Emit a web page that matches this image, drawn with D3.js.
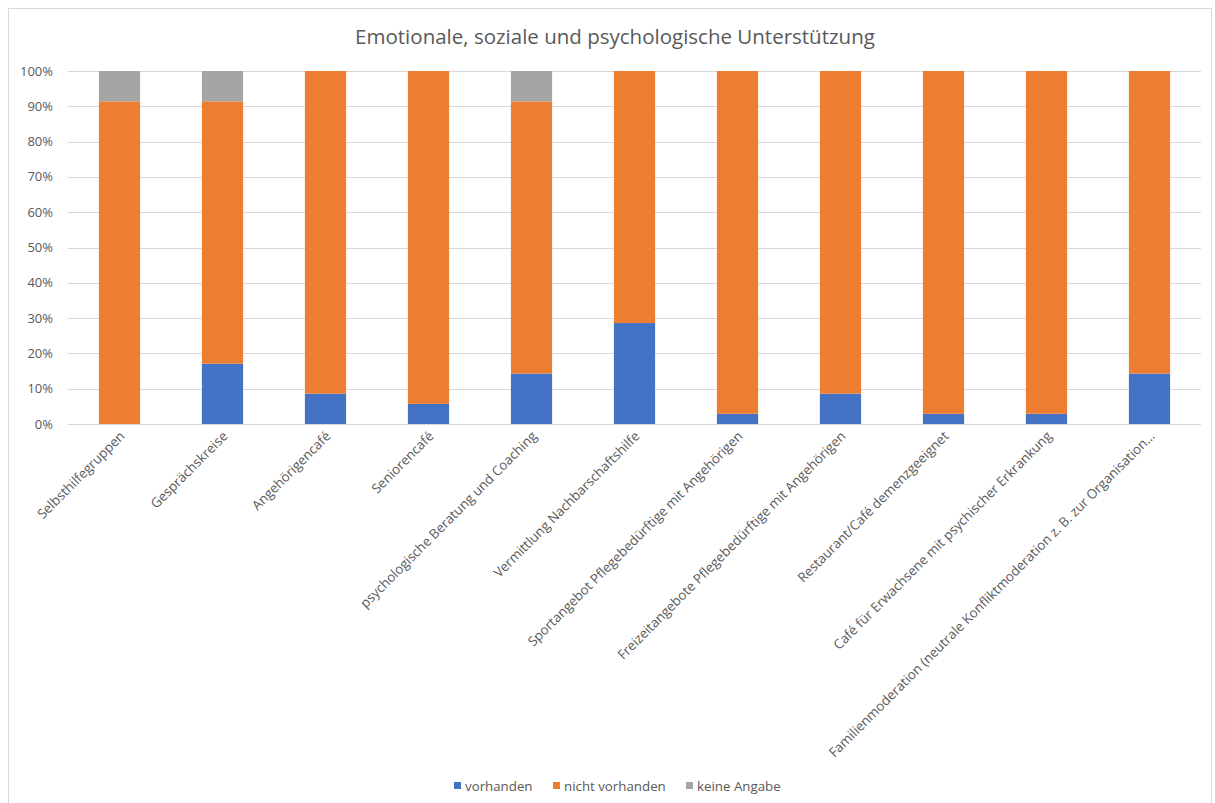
<!DOCTYPE html>
<html>
<head>
<meta charset="utf-8">
<script src="https://cdn.jsdelivr.net/npm/d3@7"></script>
<style>
  html, body { margin: 0; padding: 0; background: #fff; }
  svg { display: block; }
  text { font-family: "Open Sans", "Noto Sans", sans-serif; fill: #595959; }
</style>
</head>
<body>
<svg id="chart" width="1215" height="803"></svg>
<script>
// Angebote im Bereich emotionaler, sozialer und psychologischer Unterstützung
const categories = [
  "Selbsthilfegruppen",
  "Gesprächskreise",
  "Angehörigencafé",
  "Seniorencafé",
  "psychologische Beratung und Coaching",
  "Vermittlung Nachbarschaftshilfe",
  "Sportangebot Pflegebedürftige mit Angehörigen",
  "Freizeitangebote Pflegebedürftige mit Angehörigen",
  "Restaurant/Café demenzgeeignet",
  "Café für Erwachsene mit psychischer Erkrankung",
  "Familienmoderation (neutrale Konfliktmoderation z. B. zur Organisation…"
];
// Anteile in Prozent
const vorhanden      = [0, 17.1, 8.6, 5.7, 14.3, 28.6, 2.9, 8.6, 2.9, 2.9, 14.3];
const nichtVorhanden = [91.4, 74.3, 91.4, 94.3, 77.1, 71.4, 97.1, 91.4, 97.1, 97.1, 85.7];
const keineAngabe    = [8.6, 8.6, 0, 0, 8.6, 0, 0, 0, 0, 0, 0];
const seriesNames = ["vorhanden", "nicht vorhanden", "keine Angabe"];
const seriesColors = ["#4472C4", "#ED7D31", "#A5A5A5"];
const yTicks = [0, 10, 20, 30, 40, 50, 60, 70, 80, 90, 100];
const title = "Emotionale, soziale und psychologische Unterstützung";

const svg = d3.select("#chart");
const W = 1215, H = 803;
const plot = { left: 68, right: 1201, top: 71, bottom: 424 };

// chart frame
svg.append("rect")
  .attr("x", 8.5).attr("y", 8.5).attr("width", W - 12).attr("height", H - 5)
  .attr("fill", "#fff").attr("stroke", "#D9D9D9").attr("stroke-width", 1);

svg.append("text")
  .attr("x", 615).attr("y", 44)
  .attr("text-anchor", "middle")
  .style("font-size", "20.5px")
  .text(title);

const rows = categories.map((c, i) => ({
  cat: c,
  "vorhanden": vorhanden[i],
  "nicht vorhanden": nichtVorhanden[i],
  "keine Angabe": keineAngabe[i]
}));

const x = d3.scaleBand()
  .domain(categories)
  .range([plot.left, plot.right])
  .paddingInner(0.6)
  .paddingOuter(0.3);

const y = d3.scaleLinear().domain([0, 100]).range([plot.bottom, plot.top]);

// gridlines
svg.append("g")
  .selectAll("line")
  .data(yTicks)
  .join("line")
  .attr("x1", plot.left).attr("x2", plot.right)
  .attr("y1", d => Math.round(y(d)) + 0.5).attr("y2", d => Math.round(y(d)) + 0.5)
  .attr("stroke", "#D9D9D9").attr("stroke-width", 1);

// y tick labels
svg.append("g")
  .selectAll("text")
  .data(yTicks)
  .join("text")
  .attr("x", 53).attr("y", d => y(d))
  .attr("dy", "0.35em")
  .attr("text-anchor", "end")
  .style("font-size", "13px")
  .text(d => d + "%");

const stack = d3.stack().keys(seriesNames);
const stacked = stack(rows);

svg.append("g")
  .selectAll("g")
  .data(stacked)
  .join("g")
  .attr("fill", (d, i) => seriesColors[i])
  .selectAll("rect")
  .data(d => d)
  .join("rect")
  .attr("x", d => x(d.data.cat))
  .attr("width", x.bandwidth())
  .attr("y", d => y(d[1]))
  .attr("height", d => y(d[0]) - y(d[1]));

// category labels, rotated
svg.append("g")
  .selectAll("text")
  .data(categories)
  .join("text")
  .attr("text-anchor", "end")
  .attr("transform", d => `translate(${x(d) + x.bandwidth() / 2 + 6},${plot.bottom + 13}) rotate(-45)`)
  .style("font-size", "13.3px")
  .text(d => d);

// legend
const legendItems = [
  { name: seriesNames[0], color: seriesColors[0], x: 454 },
  { name: seriesNames[1], color: seriesColors[1], x: 553 },
  { name: seriesNames[2], color: seriesColors[2], x: 686 }
];
const lg = svg.append("g").selectAll("g").data(legendItems).join("g")
  .attr("transform", d => `translate(${d.x},786)`);
lg.append("rect").attr("x", 0).attr("y", -4).attr("width", 7).attr("height", 7).attr("fill", d => d.color);
lg.append("text").attr("x", 11).attr("dy", "0.35em").style("font-size", "13.3px").text(d => d.name);
</script>
</body>
</html>
